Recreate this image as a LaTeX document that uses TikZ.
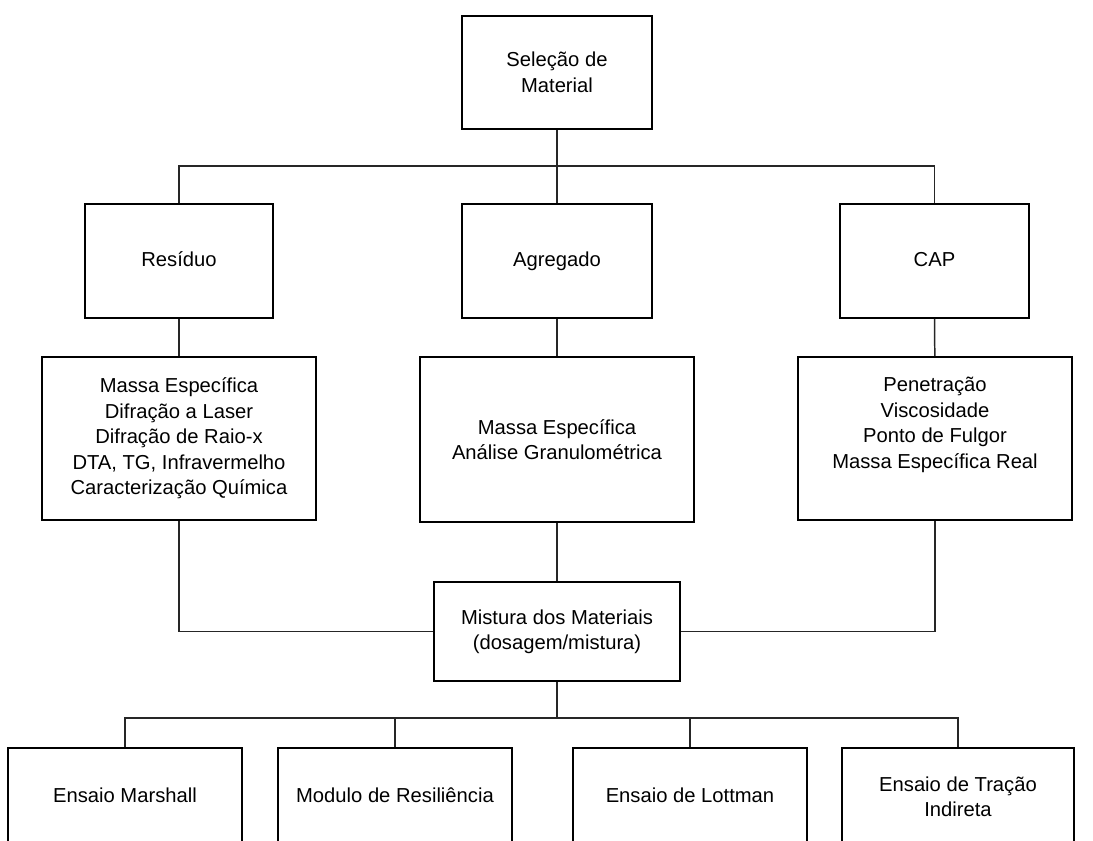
\documentclass[tikz,border=0pt]{standalone}
\usepackage{fontspec}
\setmainfont{Liberation Sans}

\begin{document}
\begin{tikzpicture}[x=0.02cm, y=-0.02cm,
    caixa/.style={rectangle, draw, line width=1.1pt, align=center, inner sep=2pt,
        font=\fontsize{11.5pt}{14.5pt}\selectfont},
    linha/.style={text height=1.6ex, text depth=0.45ex},
    liga/.style={line width=0.85pt, black!85}]
    \clip (0,0) rectangle (1093,840);
    
    % Topo
    \node[caixa, minimum width=3.8cm, minimum height=2.26cm] (selecao) at (557,72.5) {Seleção de\\Material};
    
    % Materiais
    \node[caixa, linha, minimum width=3.76cm, minimum height=2.28cm] (residuo) at (179,261) {Resíduo};
    \node[caixa, linha, minimum width=3.8cm, minimum height=2.28cm] (agregado) at (557,261) {Agregado};
    \node[caixa, linha, minimum width=3.78cm, minimum height=2.28cm] (cap) at (934.5,261) {CAP};
    
    % Ensaios dos materiais
    \node[caixa, minimum width=5.48cm, minimum height=3.26cm] (resensaio) at (179,438.5) {Massa Específica\\Difração a Laser\\Difração de Raio-x\\DTA, TG, Infravermelho\\Caracterização Química};
    \node[caixa, minimum width=5.48cm, minimum height=3.3cm] (agrensaio) at (557,439.5) {Massa Específica\\Análise Granulométrica};
    \node[caixa, minimum width=5.48cm, minimum height=3.26cm, text depth=18pt] (capensaio) at (935,438.5) {Penetração\\Viscosidade\\Ponto de Fulgor\\Massa Específica Real};
    
    % Mistura
    \node[caixa, minimum width=4.92cm, minimum height=1.98cm] (mistura) at (557,631.5) {Mistura dos Materiais\\(dosagem/mistura)};
    
    % Ensaios da mistura
    \node[caixa, linha, minimum width=4.68cm, minimum height=1.96cm] (marshall) at (125,797) {Ensaio Marshall};
    \node[caixa, linha, minimum width=4.68cm, minimum height=1.96cm] (resiliencia) at (395,797) {Modulo de Resiliência};
    \node[caixa, linha, minimum width=4.68cm, minimum height=1.96cm] (lottman) at (690,797) {Ensaio de Lottman};
    \node[caixa, minimum width=4.64cm, minimum height=1.96cm] (tracao) at (958,797) {Ensaio de Tração\\Indireta};
    
    % Barramentos
    \coordinate (barra1) at (557,166);
    \coordinate (barra2) at (557,718);
    
    % Ligações
    \draw[liga] (selecao.south) -- (agregado.north);
    \draw[liga] (residuo.north) |- (barra1) -| (cap.north);
    \draw[liga] (residuo) -- (resensaio);
    \draw[liga] (agregado) -- (agrensaio);
    \draw[liga] (cap) -- (capensaio);
    \draw[liga] (resensaio.south) |- (mistura.west);
    \draw[liga] (capensaio.south) |- (mistura.east);
    \draw[liga] (agrensaio) -- (mistura);
    \draw[liga] (mistura.south) -- (barra2);
    \draw[liga] (marshall.north) |- (barra2) -| (tracao.north);
    \draw[liga] (resiliencia.north) -- (resiliencia.north |- barra2);
    \draw[liga] (lottman.north) -- (lottman.north |- barra2);
\end{tikzpicture}
\end{document}
